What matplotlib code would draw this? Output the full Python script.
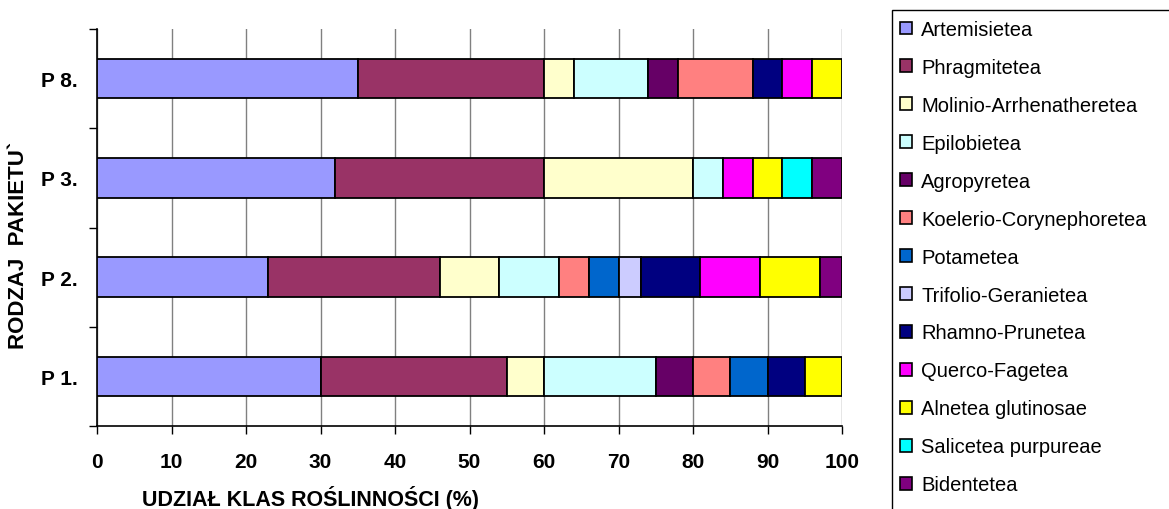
import numpy as np
import matplotlib.pyplot as plt
from matplotlib.patches import Patch, Rectangle

plt.rcParams['font.family'] = ['Liberation Sans', 'DejaVu Sans']

# data
packages = ["P 1.", "P 2.", "P 3.", "P 8."]
classes = ["Artemisietea", "Phragmitetea", "Molinio-Arrhenatheretea", "Epilobietea",
           "Agropyretea", "Koelerio-Corynephoretea", "Potametea", "Trifolio-Geranietea",
           "Rhamno-Prunetea", "Querco-Fagetea", "Alnetea glutinosae", "Salicetea purpureae",
           "Bidentetea"]
colors = ["#9999FF", "#993366", "#FFFFCC", "#CCFFFF", "#660066", "#FF8080", "#0066CC",
          "#CCCCFF", "#000080", "#FF00FF", "#FFFF00", "#00FFFF", "#800080"]
#                       P1  P2  P3  P8
artemisietea =         [30, 23, 32, 35]
phragmitetea =         [25, 23, 28, 25]
molinio =              [5, 8, 20, 4]
epilobietea =          [15, 8, 4, 10]
agropyretea =          [5, 0, 0, 4]
koelerio =             [5, 4, 0, 10]
potametea =            [5, 4, 0, 0]
trifolio =             [0, 3, 0, 0]
rhamno =               [5, 8, 0, 4]
querco =               [0, 8, 4, 4]
alnetea =              [5, 8, 4, 4]
salicetea =            [0, 0, 4, 0]
bidentetea =           [0, 3, 4, 0]
series = [artemisietea, phragmitetea, molinio, epilobietea, agropyretea, koelerio,
          potametea, trifolio, rhamno, querco, alnetea, salicetea, bidentetea]

fig = plt.figure(figsize=(11.69, 5.10), dpi=100)
ax = fig.add_axes([97/1169, 1 - 427/510, (842-97)/1169, (427-30)/510])

y = np.arange(len(packages))
left = np.zeros(len(packages))
for vals, col in zip(series, colors):
    vals = np.array(vals, dtype=float)
    mask = vals > 0
    ax.barh(y[mask], vals[mask], left=left[mask], height=0.4, color=col,
            edgecolor="black", linewidth=1.3, zorder=3)
    left += vals

ax.set_xlim(0, 100)
ax.set_ylim(-0.5, len(packages) - 0.5)
ax.set_xticks(np.arange(0, 101, 10))
ax.set_yticks(y)
ax.set_yticklabels(packages, fontweight="bold", fontsize=15)
ax.set_yticks(np.arange(-0.5, len(packages), 1), minor=True)
ax.tick_params(axis="y", which="major", length=0, pad=14)
ax.tick_params(axis="y", which="minor", length=6, width=1, color="black")
ax.tick_params(axis="x", length=6, width=1, pad=13, labelsize=15)
for lab in ax.get_xticklabels():
    lab.set_fontweight("bold")

ax.grid(axis="x", color="#808080", linewidth=1, zorder=0)
ax.spines["top"].set_visible(False)
ax.spines["right"].set_visible(False)
ax.spines["left"].set_linewidth(1.2)
ax.spines["bottom"].set_linewidth(1.2)

fig.text(311/1169, 1 - 499/510, "UDZIAŁ KLAS ROŚLINNOŚCI (%)", ha="center", va="center",
         fontsize=15.5, fontweight="bold")
fig.text(19/1169, 1 - 245/510, "RODZAJ  PAKIETU`", ha="center", va="center",
         rotation=90, fontsize=16, fontweight="bold")

# legend box, partly cut off by the figure edge like in the original
fig.patches.append(Rectangle((892/1169, -0.1), 0.5, 1 - 11/510 + 0.1,
                             transform=fig.transFigure, facecolor="white",
                             edgecolor="black", linewidth=1))
handles = [Patch(facecolor=c, edgecolor="black", linewidth=1.2) for c in colors]
fig.legend(handles, classes, loc="upper left", bbox_to_anchor=(892/1169, 1 - 13/510),
           frameon=False, fontsize=14.5, handlelength=0.6, handleheight=0.6,
           handletextpad=0.45, labelspacing=0.94, borderaxespad=0)

fig.savefig("out.png", dpi=100)
